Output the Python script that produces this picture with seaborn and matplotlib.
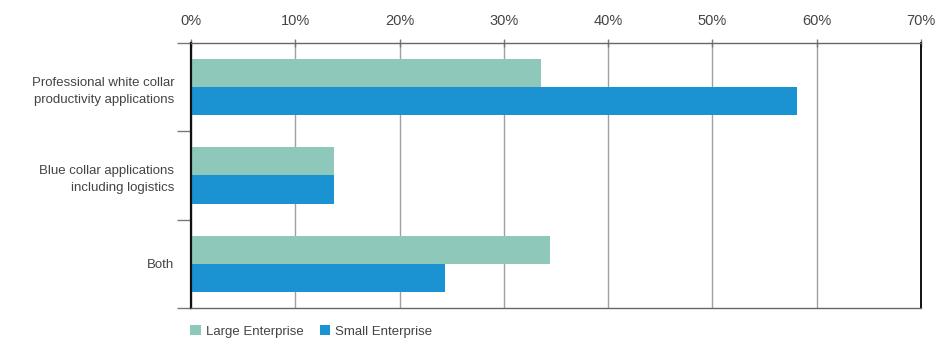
import matplotlib
matplotlib.use("Agg")
import matplotlib.pyplot as plt
import matplotlib.ticker as mticker
import seaborn as sns
import pandas as pd

# values (percent of respondents)
categories = ["Professional white collar\nproductivity applications",
              "Blue collar applications\nincluding logistics",
              "Both"]
large_enterprise = [33.6, 13.7, 34.4]
small_enterprise = [58.1, 13.7, 24.4]
series_names = ["Large Enterprise", "Small Enterprise"]
colors = ["#8dc8bb", "#1b92d1"]

df = pd.DataFrame({
    "category": categories * 2,
    "value": large_enterprise + small_enterprise,
    "series": [series_names[0]] * 3 + [series_names[1]] * 3,
})

sns.set_style("white")
plt.rcParams["font.family"] = ["Liberation Sans", "DejaVu Sans"]
text_col = "#444444"

fig = plt.figure(figsize=(9.5, 3.41), dpi=100)
ax = fig.add_axes([0.201, 0.097, 0.7685, 0.777])

sns.barplot(data=df, y="category", x="value", hue="series", orient="h",
            palette=colors, width=0.64, saturation=1, linewidth=0, ax=ax, legend=True)

ax.set_xlim(0, 70)
ax.set_ylim(2.5, -0.5)
ax.set_xlabel("")
ax.set_ylabel("")
ax.xaxis.set_major_locator(mticker.MultipleLocator(10))
ax.xaxis.set_major_formatter(mticker.FuncFormatter(lambda v, p: f"{int(v)}%"))
ax.xaxis.tick_top()
ax.tick_params(axis="x", direction="inout", length=6, width=1, color="#777777",
               labelsize=10.5, labelcolor=text_col, pad=8)

# gridlines
ax.grid(axis="x", color="#a0a0a0", linewidth=1)
ax.set_axisbelow(True)

# y tick labels, with boundary ticks as minor ticks
ax.set_yticks(range(len(categories)))
ax.set_yticklabels(categories, ha="right", multialignment="right", linespacing=1.55)
ax.tick_params(axis="y", which="major", length=0, labelsize=9.5, labelcolor=text_col, pad=12)
ax.set_yticks([-0.5, 0.5, 1.5, 2.5], minor=True)
ax.tick_params(axis="y", which="minor", left=True, length=10, width=1, color="#777777",
               direction="out")

for side in ["top", "bottom"]:
    ax.spines[side].set_color("#666666")
    ax.spines[side].set_linewidth(1)
ax.spines["left"].set_color("#111111")
ax.spines["left"].set_linewidth(1.6)
ax.spines["right"].set_color("#111111")
ax.spines["right"].set_linewidth(1.4)

leg = ax.legend(loc="upper left", bbox_to_anchor=(-0.012, -0.035), ncol=2, frameon=False,
                handlelength=0.8, handleheight=0.8, handletextpad=0.4, columnspacing=1.2,
                fontsize=9.5, labelcolor=text_col, borderaxespad=0.2)

fig.savefig("out.png", dpi=100)
